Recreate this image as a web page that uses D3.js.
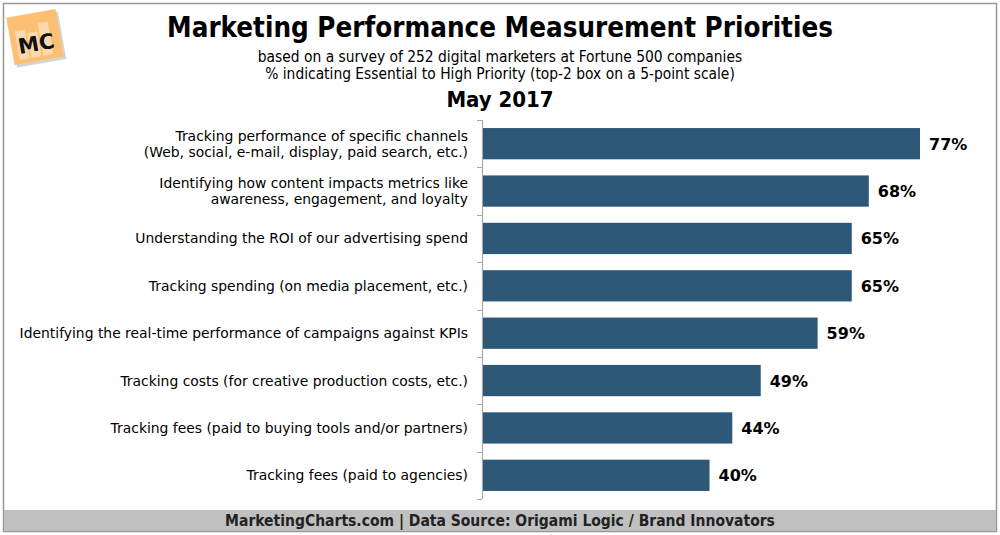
<!DOCTYPE html>
<html><head><meta charset="utf-8">
<script src="https://cdn.jsdelivr.net/npm/d3@7"></script>
<style>body{margin:0;background:#fff}svg{display:block}</style>
</head><body>
<svg id="c" width="1000" height="535"></svg>
<script>
const categories = [
  ["Tracking performance of specific channels", "(Web, social, e-mail, display, paid search, etc.)"],
  ["Identifying how content impacts metrics like", "awareness, engagement, and loyalty"],
  ["Understanding the ROI of our advertising spend"],
  ["Tracking spending (on media placement, etc.)"],
  ["Identifying the real-time performance of campaigns against KPIs"],
  ["Tracking costs (for creative production costs, etc.)"],
  ["Tracking fees (paid to buying tools and/or partners)"],
  ["Tracking fees (paid to agencies)"]
];
const values = [77, 68, 65, 65, 59, 49, 44, 40];
const title = "Marketing Performance Measurement Priorities";
const subtitles = ["based on a survey of 252 digital marketers at Fortune 500 companies",
                   "% indicating Essential to High Priority (top-2 box on a 5-point scale)"];
const period = "May 2017";
const footer = "MarketingCharts.com | Data Source: Origami Logic / Brand Innovators";

const svg = d3.select("#c");
const font = "Verdana, 'DejaVu Sans', sans-serif";
const condBold = "'DejaVu Sans Condensed', 'DejaVu Sans', sans-serif";

// frame
svg.append("rect").attr("x",3.5).attr("y",3.5).attr("width",993).attr("height",528)
  .attr("fill","#fff").attr("stroke","#999").attr("stroke-width",1.5);
svg.append("rect").attr("x",4).attr("y",510).attr("width",992).attr("height",21).attr("fill","#c0c0c0");

// logo
const logo = svg.append("g").attr("transform","translate(35,37) rotate(-10)");
logo.append("rect").attr("x",-25).attr("y",-24).attr("width",50).attr("height",48).attr("fill","#aaa").attr("opacity",0.5).attr("transform","translate(2,3)");
logo.append("rect").attr("x",-25).attr("y",-24).attr("width",50).attr("height",48).attr("fill","#fdc073");
[[-19,-9,10,29],[-7,-5,10,25],[5,-13,10,33]].forEach(b=>logo.append("rect").attr("x",b[0]).attr("y",b[1]).attr("width",b[2]).attr("height",b[3]).attr("fill","#fbd9b0"));
logo.append("text").attr("x",0).attr("y",14).attr("text-anchor","middle").attr("font-family",font)
  .attr("font-weight","bold").attr("font-size",21).attr("fill","#111").text("MC");

// titles
svg.append("text").attr("x",500).attr("y",37).attr("text-anchor","middle").attr("font-family",condBold)
  .attr("font-weight","bold").attr("font-size",27.5).attr("fill","#000").text(title);
subtitles.forEach((s,i)=>svg.append("text").attr("x",500).attr("y",62+i*17).attr("text-anchor","middle")
  .attr("font-family",condBold).attr("font-size",15.4).attr("fill","#000").text(s));
svg.append("text").attr("x",500).attr("y",107).attr("text-anchor","middle").attr("font-family",condBold)
  .attr("font-weight","bold").attr("font-size",22).attr("fill","#000").text(period);

// scales
const x = d3.scaleLinear().domain([0,77]).range([482,920]);
const y = d3.scaleBand().domain(d3.range(categories.length)).range([120,499]).paddingInner(0.34).paddingOuter(0.17);

// axis line and ticks at band boundaries
svg.append("line").attr("x1",482.5).attr("x2",482.5).attr("y1",120).attr("y2",499).attr("stroke","#aaa").attr("stroke-width",1.2);
d3.range(categories.length+1).forEach(i=>{
  const yy = Math.round(120 + i*(379/categories.length))+0.5;
  svg.append("line").attr("x1",477).attr("x2",482).attr("y1",yy).attr("y2",yy).attr("stroke","#aaa");
});

// bars
svg.selectAll(".bar").data(values).enter().append("rect")
  .attr("x",x(0)+1).attr("y",(d,i)=>y(i)).attr("width",d=>x(d)-x(0)-1).attr("height",y.bandwidth())
  .attr("fill","#2d5878");

// value labels
svg.selectAll(".val").data(values).enter().append("text")
  .attr("x",d=>x(d)+9).attr("y",(d,i)=>y(i)+y.bandwidth()/2+6)
  .attr("font-family",font).attr("font-weight","bold").attr("font-size",16).attr("fill","#000")
  .text(d=>d+"%");

// category labels
categories.forEach((lines,i)=>{
  const cy = y(i)+y.bandwidth()/2;
  const t = svg.append("text").attr("text-anchor","end").attr("font-family",font).attr("font-size",13.9).attr("fill","#000");
  lines.forEach((l,j)=>{
    t.append("tspan").attr("x",468).attr("y",cy+5+(j-(lines.length-1)/2)*16).text(l);
  });
});

// footer
svg.append("text").attr("x",500).attr("y",526).attr("text-anchor","middle").attr("font-family",condBold)
  .attr("font-weight","bold").attr("font-size",15.5).attr("fill","#222").text(footer);
</script>
</body></html>
